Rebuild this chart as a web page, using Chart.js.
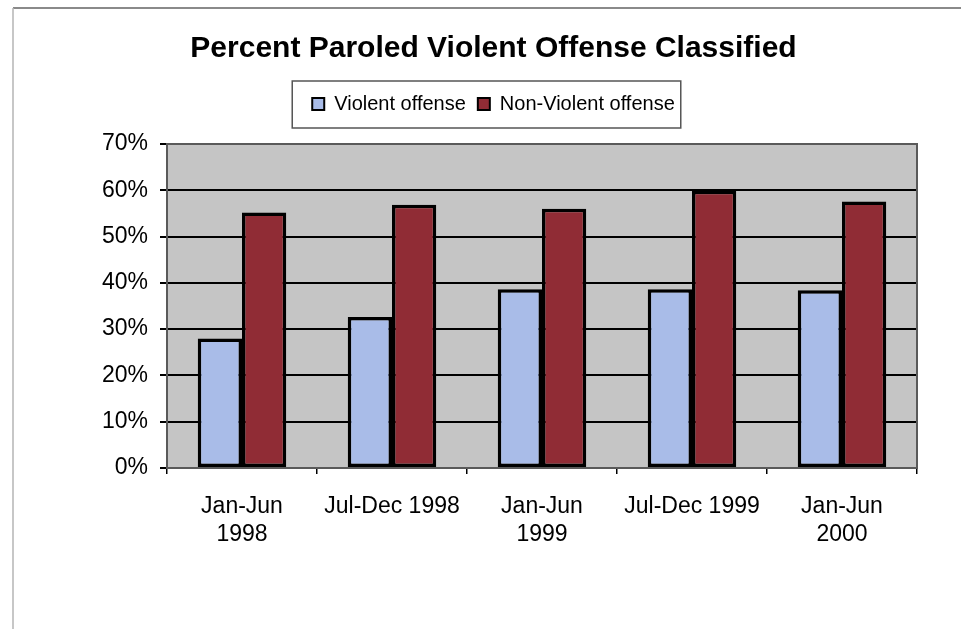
<!DOCTYPE html>
<html>
<head>
<meta charset="utf-8">
<title>Percent Paroled Violent Offense Classified</title>
<script src="https://cdn.jsdelivr.net/npm/chart.js@4/dist/chart.umd.min.js"></script>
<style>
    html, body { margin: 0; padding: 0; background: #fff; }
    #wrap { width: 961px; height: 629px; }
</style>
</head>
<body>
<div id="wrap"><canvas id="paroleChart" width="961" height="629"></canvas></div>
<script>
// Half-year periods and share of parolees in each offense class (%)
const periods = [
    ['Jan-Jun', '1998'],
    'Jul-Dec 1998',
    ['Jan-Jun', '1999'],
    'Jul-Dec 1999',
    ['Jan-Jun', '2000']
];
const violent = [28, 32.6, 38.6, 38.6, 38.4];
const nonViolent = [55.2, 56.9, 56, 59.9, 57.6];
const yTicks = [0, 10, 20, 30, 40, 50, 60, 70];

const FONT = '"Liberation Sans", Arial, Helvetica, sans-serif';

// thin frame along the top and left of the page, and the grey plot fill
const backdrop = {
    id: 'backdrop',
    beforeDraw(chart) {
        const { ctx, chartArea: a } = chart;
        ctx.save();
        ctx.strokeStyle = '#8a8a8a';
        ctx.lineWidth = 2;
        ctx.beginPath();
        ctx.moveTo(961, 8);
        ctx.lineTo(13, 8);
        ctx.stroke();
        ctx.strokeStyle = '#b5b5b5';
        ctx.lineWidth = 1.5;
        ctx.beginPath();
        ctx.moveTo(13, 8);
        ctx.lineTo(13, 629);
        ctx.stroke();

        ctx.fillStyle = '#c5c5c5';
        ctx.fillRect(a.left, a.top, a.right - a.left, a.bottom - a.top);
        ctx.restore();
    },
    beforeDatasetsDraw(chart) {
        const { ctx, chartArea: a } = chart;
        ctx.save();
        ctx.strokeStyle = '#5a5a5a';
        ctx.lineWidth = 2;
        ctx.strokeRect(a.left, a.top, a.right - a.left, a.bottom - a.top);
        ctx.restore();
    }
};

// push the plot down below the legend
const legendGap = {
    id: 'legendGap',
    beforeInit(chart) {
        const fit = chart.legend.fit;
        chart.legend.fit = function () {
            fit.bind(chart.legend)();
            this.height += 20;
        };
    }
};

// boxed legend like the spreadsheet one
const legendFrame = {
    id: 'legendFrame',
    afterDraw(chart) {
        const lg = chart.legend;
        if (!lg || !lg.legendHitBoxes.length) return;
        const boxes = lg.legendHitBoxes;
        const first = boxes[0];
        const last = boxes[boxes.length - 1];
        const cy = first.top + first.height / 2;
        const x0 = first.left - 20;
        const x1 = last.left + last.width + 6;
        const y0 = cy - 23;
        const y1 = cy + 24;
        const { ctx } = chart;
        ctx.save();
        ctx.strokeStyle = '#555';
        ctx.lineWidth = 1.5;
        ctx.strokeRect(x0, y0, x1 - x0, y1 - y0);
        ctx.restore();
    }
};

new Chart(document.getElementById('paroleChart'), {
    type: 'bar',
    data: {
        labels: periods,
        datasets: [
            {
                label: 'Violent offense',
                data: violent,
                backgroundColor: '#a9bce8',
                borderColor: '#000',
                borderWidth: 3.5,
                borderSkipped: false
            },
            {
                label: 'Non-Violent offense',
                data: nonViolent,
                backgroundColor: '#902c35',
                borderColor: '#000',
                borderWidth: 3.5,
                borderSkipped: false
            }
        ]
    },
    options: {
        responsive: false,
        animation: false,
        devicePixelRatio: 1,
        layout: { padding: { left: 70, right: 44, top: 31, bottom: 0 } },
        datasets: {
            bar: { barPercentage: 1, categoryPercentage: 0.59 }
        },
        plugins: {
            title: {
                display: true,
                text: 'Percent Paroled Violent Offense Classified',
                color: '#000',
                font: { family: FONT, size: 30, weight: 'bold' },
                padding: { top: 0, bottom: 15 }
            },
            legend: {
                display: true,
                position: 'top',
                labels: {
                    color: '#000',
                    font: { family: FONT, size: 20 },
                    boxWidth: 12,
                    boxHeight: 12,
                    padding: 12,
                    generateLabels(chart) {
                        return chart.data.datasets.map((ds, i) => ({
                            text: ds.label,
                            fillStyle: ds.backgroundColor,
                            strokeStyle: '#000',
                            lineWidth: 2,
                            fontColor: '#000',
                            datasetIndex: i
                        }));
                    }
                }
            },
            tooltip: { enabled: false }
        },
        scales: {
            x: {
                afterFit(scale) { scale.height = 161; },
                grid: {
                    offset: true,
                    drawOnChartArea: false,
                    drawTicks: true,
                    tickLength: 6,
                    color: '#000',
                    lineWidth: 1.5
                },
                border: { display: true, color: '#000', width: 2 },
                ticks: {
                    color: '#000',
                    font: { family: FONT, size: 23, lineHeight: 1.22 },
                    padding: 19,
                    maxRotation: 0,
                    autoSkip: false
                }
            },
            y: {
                min: 0,
                max: 70,
                afterFit(scale) { scale.width = 97; },
                afterBuildTicks(scale) {
                    scale.ticks = yTicks.map(v => ({ value: v }));
                },
                grid: {
                    color: '#000',
                    lineWidth: 2,
                    tickLength: 7
                },
                border: { display: true, color: '#555', width: 2 },
                ticks: {
                    color: '#000',
                    font: { family: FONT, size: 23 },
                    padding: 12,
                    callback: v => v + '%'
                }
            }
        }
    },
    plugins: [backdrop, legendGap, legendFrame]
});
</script>
</body>
</html>
